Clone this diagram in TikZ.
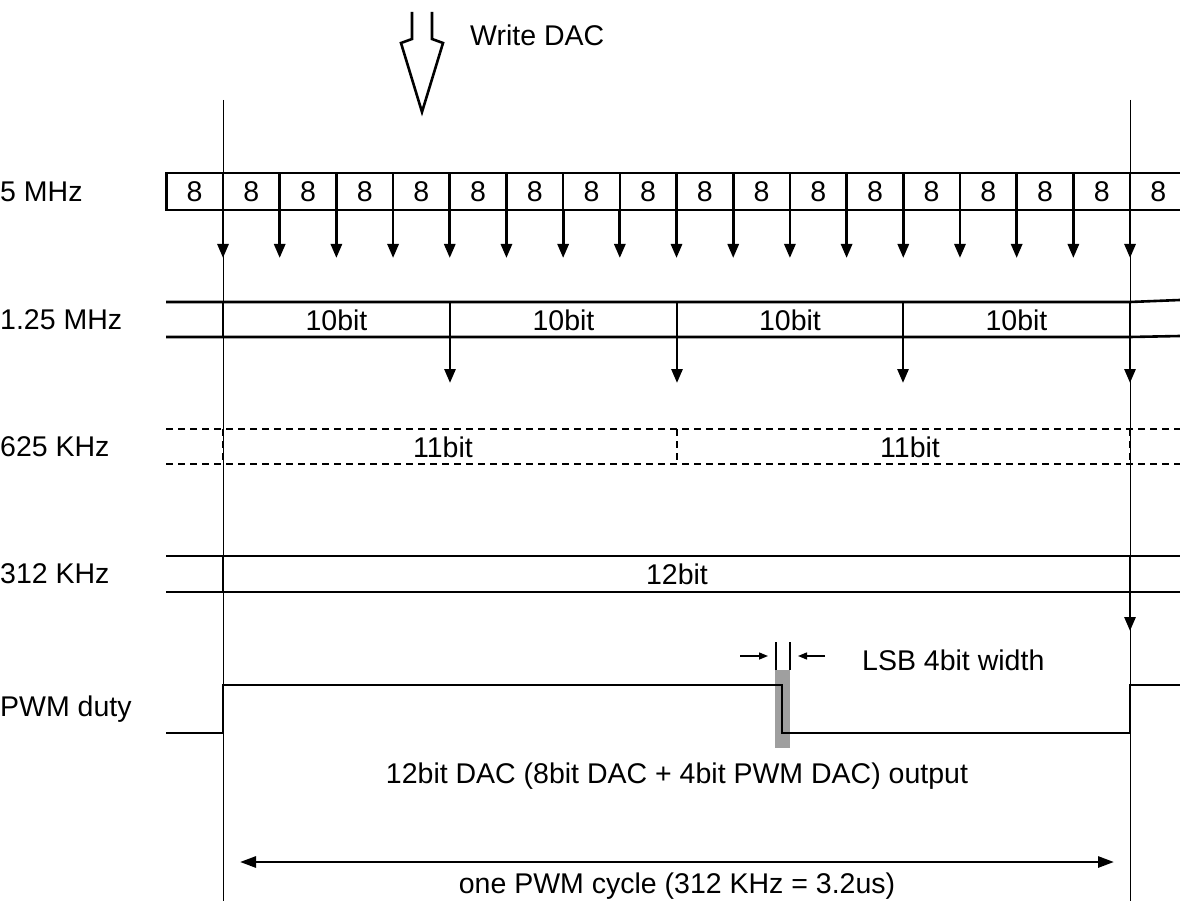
\documentclass[tikz,border=0pt]{standalone}
\usepackage{fontspec}
\setmainfont{Liberation Sans}
\usetikzlibrary{arrows.meta}

\tikzset{
  guide/.style={line width=1pt},
  box/.style={line width=2.6pt},
  dashbox/.style={line width=2.4pt, dash pattern=on 7pt off 5pt},
  clkarrow/.style={line width=2.8pt, -{Triangle[length=14pt,width=11pt]}},
  smallarrow/.style={line width=1.4pt, -{Triangle[length=9pt,width=7pt]}},
  txt/.style={inner sep=0pt, font=\fontsize{28.5}{32}\selectfont},
  lbl/.style={txt, anchor=west},
}

\begin{document}
\begin{tikzpicture}[x=1pt, y=-1pt]
  \useasboundingbox (0,0) rectangle (1180,901);

  % start and end of one PWM cycle
  \draw[guide] (223,100) -- (223,901);
  \draw[guide] (1130,100) -- (1130,901);

  % row labels
  \node[lbl] (lfive) at (0,192) {5 MHz};
  \node[lbl] (lone) at (0,320) {1.25 MHz};
  \node[lbl] (lsix) at (0,447) {625 KHz};
  \node[lbl] (lthree) at (0,574) {312 KHz};
  \node[lbl] (lpwm) at (0,709) {PWM duty};

  % write DAC
  \draw[line width=2.6pt, line join=miter] (412,12) -- (412,39) -- (401,43) -- (422,112)
    -- (443,43) -- (432,39) -- (432,12);
  \node[lbl] (write) at (470,35) {Write DAC};

  % 5 MHz
  \foreach \i in {0,...,16}
    \draw[box] ({166.3+\i*56.69},173) rectangle ++(56.69,37)
      node[midway, txt] {8};
  \draw[box] (1130,173) -- (1180,173);
  \draw[box] (1130,210) -- (1180,210);
  \node[txt] (lastcell) at (1158.3,191.5) {8};
  \foreach \i in {0,...,16}
    \draw[clkarrow] ({223+\i*56.69},210) -- ++(0,48);

  % 1.25 MHz
  \draw[box] (166,302) -- (1130,302) -- (1180,300);
  \draw[box] (166,337) -- (1130,337) -- (1180,336);
  \foreach \x in {223,450,677,903,1130}
    \draw[box] (\x,302) -- (\x,337);
  \foreach \x in {336.5,563.5,790,1016.5}
    \node[txt] at (\x,320) {10bit};
  \foreach \x in {450,677,903,1130}
    \draw[clkarrow] (\x,337) -- ++(0,46);

  % 625 KHz
  \draw[dashbox] (166,429) -- (1180,429);
  \draw[dashbox] (166,464) -- (1180,464);
  \foreach \x in {223,677,1130}
    \draw[dashbox] (\x,429) -- (\x,464);
  \node[txt] (elevena) at (443,447) {11bit};
  \node[txt] (elevenb) at (910,447) {11bit};

  % 312 KHz
  \draw[box] (166,556) -- (1180,556);
  \draw[box] (166,592) -- (1180,592);
  \draw[box] (223,556) -- (223,592);
  \draw[box] (1130,556) -- (1130,592);
  \node[txt] (twelve) at (677,574) {12bit};
  \draw[clkarrow] (1130,580) -- (1130,631);

  % PWM duty
  \fill[gray!75] (775,670) rectangle (790,748);
  \draw[box] (166,733) -- (223,733) -- (223,685) -- (782,685) -- (782,733)
    -- (1130,733) -- (1130,685) -- (1180,685);

  % LSB width
  \draw[line width=1.4pt] (776,642) -- (776,670);
  \draw[line width=1.4pt] (790,642) -- (790,670);
  \coordinate (lsba) at (740,656);
  \coordinate (lsbb) at (768,656);
  \coordinate (lsbc) at (825,656);
  \coordinate (lsbd) at (798,656);
  \draw[smallarrow] (lsba) -- (lsbb);
  \draw[smallarrow] (lsbc) -- (lsbd);
  \node[lbl] (lsb) at (862,660) {LSB 4bit width};

  \node[txt] (output) at (677,776) {12bit DAC (8bit DAC + 4bit PWM DAC) output};

  % one PWM cycle
  \coordinate (cyca) at (240,862);
  \coordinate (cycb) at (1114,862);
  \draw[line width=2.8pt, {Triangle[length=16pt,width=11pt]}-{Triangle[length=16pt,width=11pt]}]
    (cyca) -- (cycb);
  \node[txt] (cycle) at (677,886) {one PWM cycle (312 KHz = 3.2us)};
\end{tikzpicture}
\end{document}
